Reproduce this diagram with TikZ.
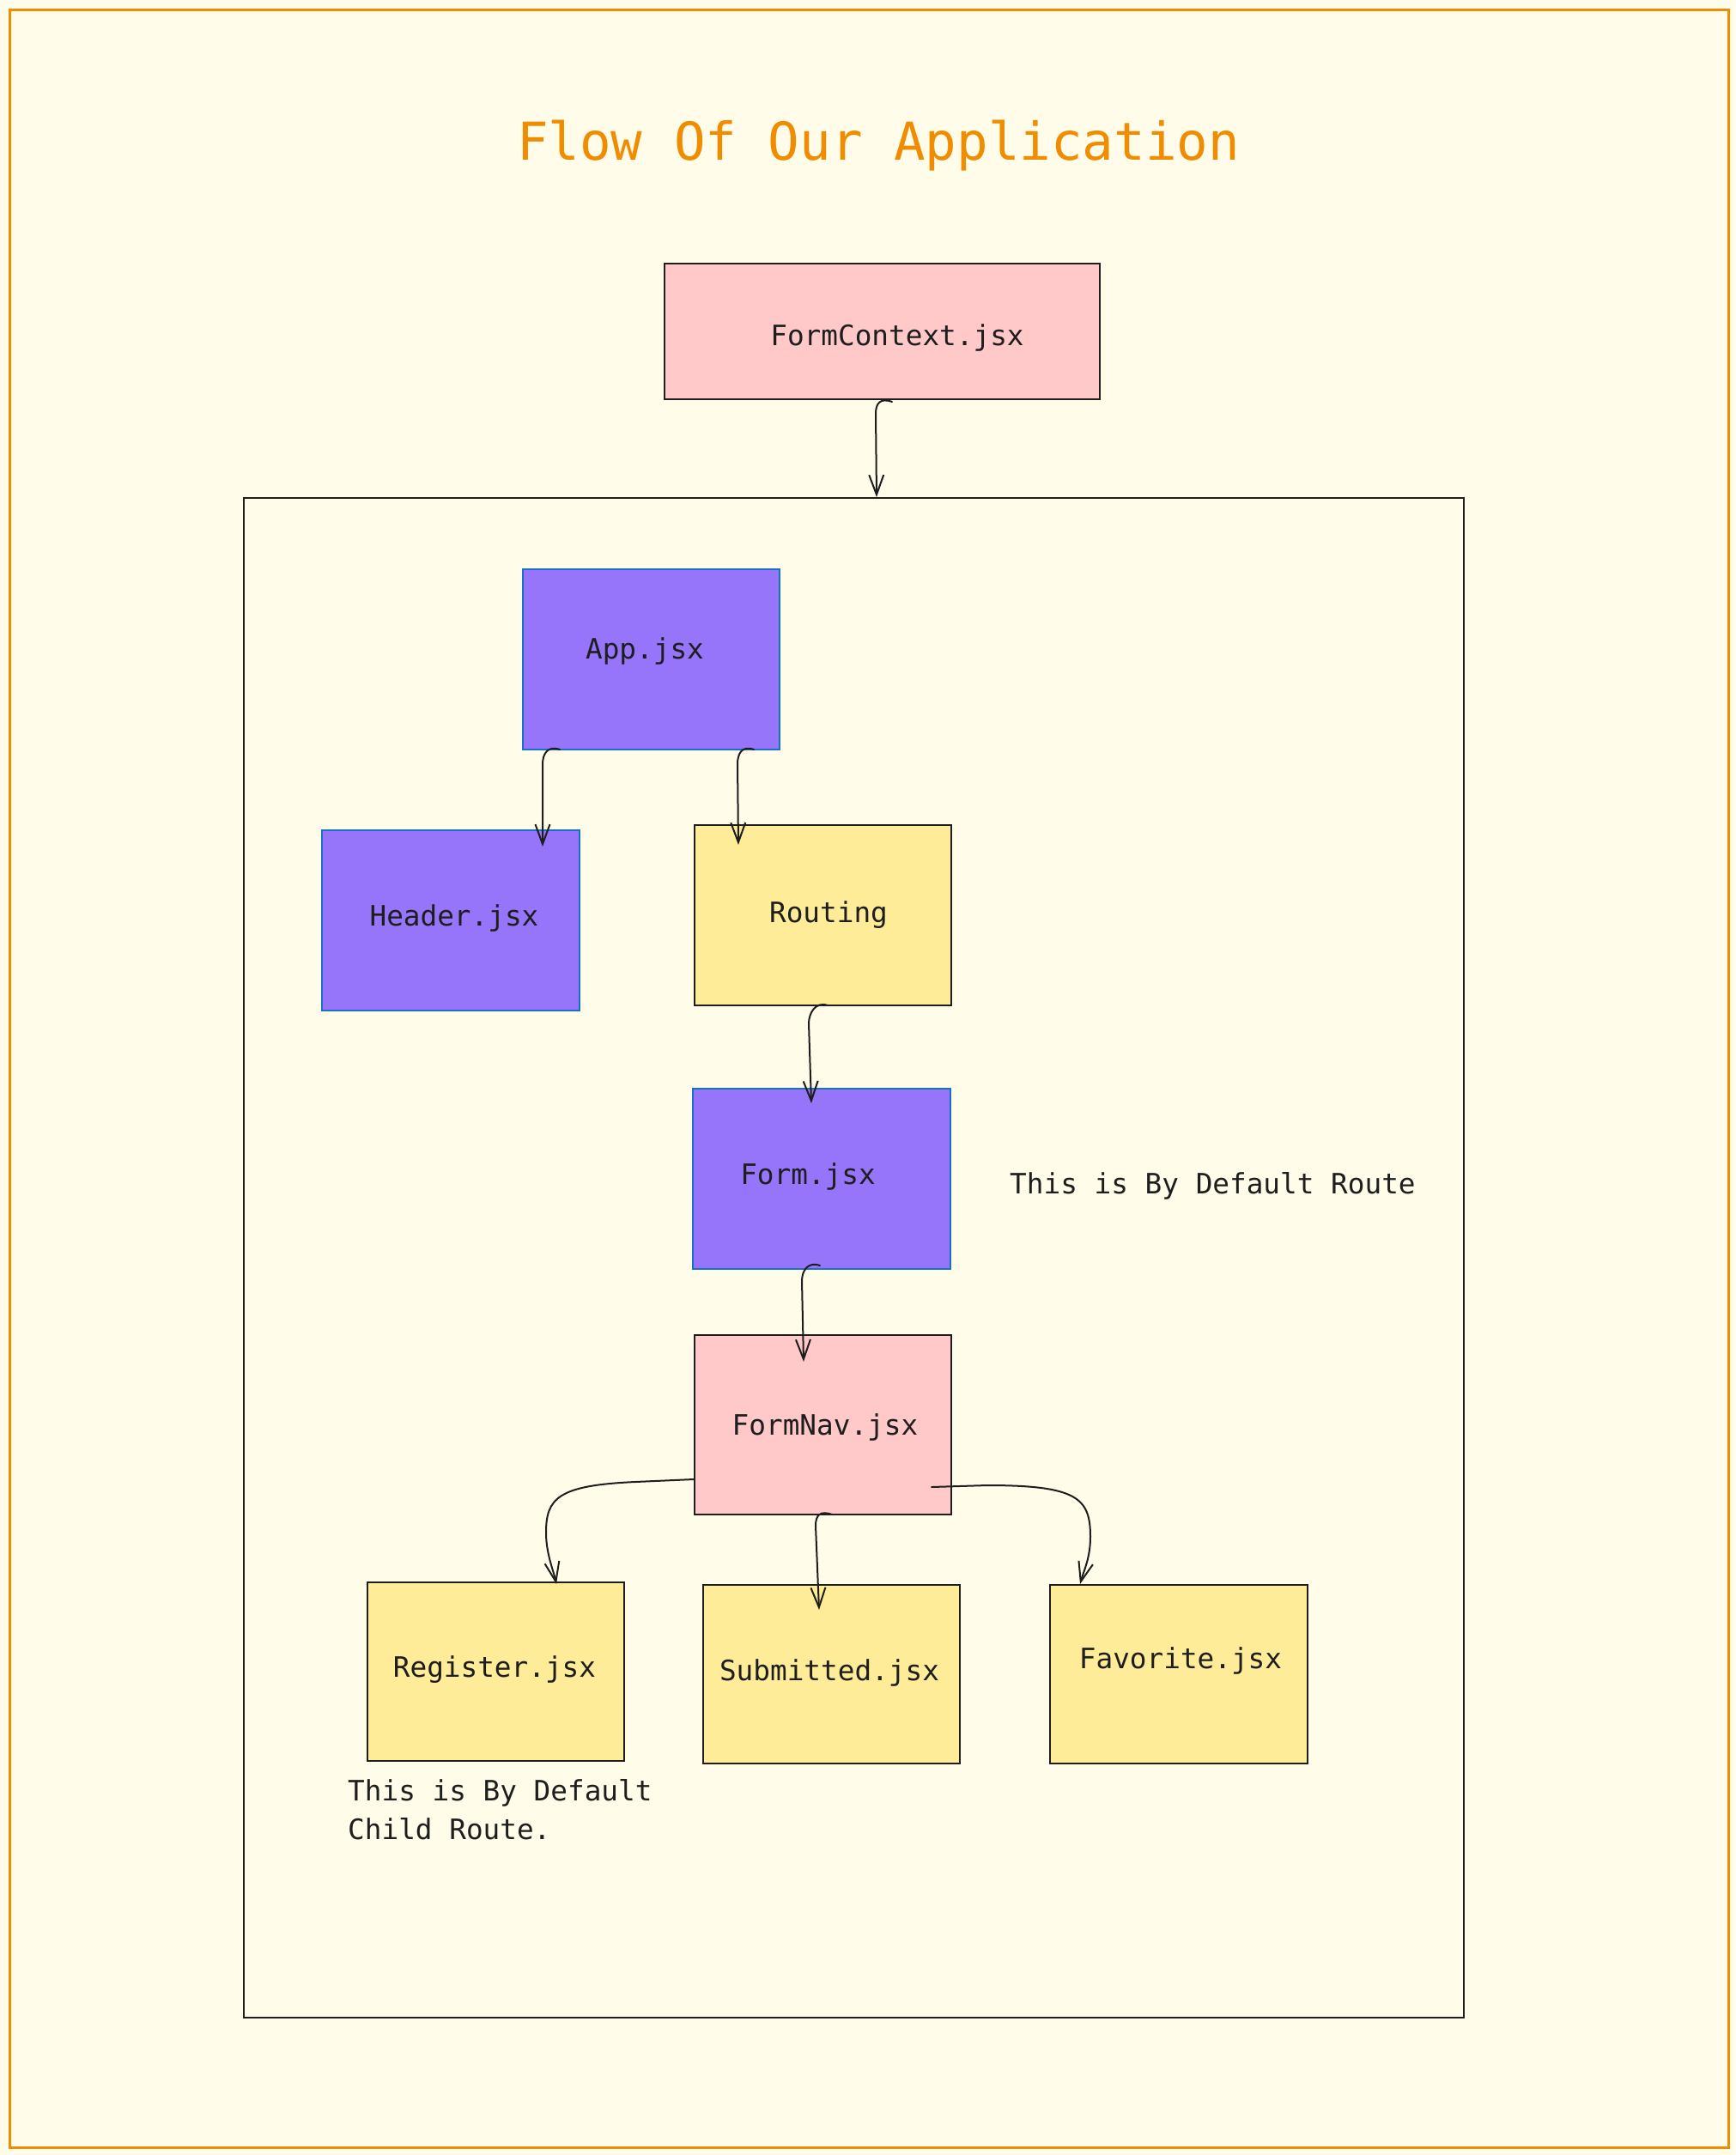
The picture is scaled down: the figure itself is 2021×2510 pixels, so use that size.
\documentclass[tikz,border=0pt]{standalone}
\usepackage{fontspec}
\setmonofont{DejaVu Sans Mono}
\usetikzlibrary{arrows.meta,calc}
\definecolor{bgc}{HTML}{FFFDE9}
\definecolor{orng}{HTML}{F08C00}
\definecolor{pinkf}{HTML}{FFC9C9}
\definecolor{violf}{HTML}{9775FA}
\definecolor{bluestroke}{HTML}{1971C2}
\definecolor{yelf}{HTML}{FFEC99}
\definecolor{dark}{HTML}{1E1E1E}
\begin{document}
\begin{tikzpicture}[x=1pt,y=-1pt,
  boxbase/.style={rectangle, inner sep=0pt, anchor=north west, line width=2pt},
  pinkbox/.style={boxbase, draw=dark, fill=pinkf},
  violbox/.style={boxbase, draw=bluestroke, fill=violf},
  yelbox/.style={boxbase, draw=dark, fill=yelf},
  lbl/.style={font=\ttfamily\fontsize{32.7}{45}\selectfont, text=dark, inner sep=0pt, anchor=base},
  note/.style={font=\ttfamily\fontsize{32.7}{45}\selectfont, text=dark, inner sep=0pt, anchor=base west, align=left},
  arr/.style={draw=dark, line width=2pt, line cap=round, -{Straight Barb[length=23pt,width=17pt,line width=2pt]}}
]
\useasboundingbox[fill=bgc] (0,0) rectangle (2021,2510);

% outer frame
\node[boxbase, draw=orng, line width=3pt, minimum width=2002pt, minimum height=2490pt] (frame) at (10,10) {};

% title
\node[font=\ttfamily\fontsize{60.8}{70}\selectfont, text=orng, inner sep=0pt, anchor=base] (title) at (1023,187) {Flow Of Our Application};

% boxes
\node[pinkbox, minimum width=507pt, minimum height=158pt] (fc) at (773,306) {};
\node[boxbase, draw=dark, minimum width=1421pt, minimum height=1770pt] (big) at (283,579) {};
\node[violbox, minimum width=299pt, minimum height=210pt] (app) at (608,662) {};
\node[violbox, minimum width=300pt, minimum height=210pt] (header) at (374,966) {};
\node[yelbox, minimum width=299pt, minimum height=210pt] (routing) at (808,960) {};
\node[violbox, minimum width=300pt, minimum height=210pt] (form) at (806,1267) {};
\node[pinkbox, minimum width=299pt, minimum height=209pt] (nav) at (808,1554) {};
\node[yelbox, minimum width=299pt, minimum height=208pt] (reg) at (427,1842) {};
\node[yelbox, minimum width=299pt, minimum height=208pt] (sub) at (818,1845) {};
\node[yelbox, minimum width=300pt, minimum height=208pt] (fav) at (1222,1845) {};

% labels
\node[lbl] (tfc) at (1045,402) {FormContext.jsx};
\node[lbl] (tapp) at (751,767) {App.jsx};
\node[lbl] (theader) at (529,1078) {Header.jsx};
\node[lbl] (trouting) at (965,1074) {Routing};
\node[lbl] (tform) at (941,1379) {Form.jsx};
\node[lbl] (tnav) at (961,1671) {FormNav.jsx};
\node[lbl] (treg) at (576,1953) {Register.jsx};
\node[lbl] (tsub) at (966,1957) {Submitted.jsx};
\node[lbl] (tfav) at (1375,1943) {Favorite.jsx};

% notes
\node[note] (n1) at (1176,1390) {This is By Default Route};
\node[note] (n2) at (405,2142) {This is By Default\\Child Route.};

% connectors
\draw[arr] ($(fc.south west)+(266,2)$) .. controls +(-14,-5) and +(0,-12) .. ($(fc.south west)+(247,16)$) -- ($(big.north west)+(738,0)$);
\draw[arr] ($(app.south west)+(44,-1)$) .. controls +(-14,-5) and +(0,-12) .. ($(app.south west)+(24,16)$) -- ($(header.north west)+(258,20)$);
\draw[arr] ($(app.south west)+(270,-1)$) .. controls +(-14,-5) and +(0,-12) .. ($(app.south west)+(251,16)$) -- ($(routing.north west)+(52,24)$);
\draw[arr] ($(routing.south west)+(156,-1)$) .. controls +(-14,-5) and +(0,-12) .. ($(routing.south west)+(134,20)$) -- ($(form.north west)+(139,18)$);
\draw[arr] ($(form.south west)+(149,-5)$) .. controls +(-14,-5) and +(0,-12) .. ($(form.south west)+(128,13)$) -- ($(nav.north west)+(128,32)$);
\draw[arr] ($(nav.south west)+(161,-1)$) .. controls +(-14,-5) and +(0,-12) .. ($(nav.south west)+(142,12)$) -- ($(sub.north west)+(136,30)$);

\coordinate (r0) at ($(nav.north west)+(0,169)$);
\coordinate (r1) at ($(reg.north west)+(313,-116)$);
\coordinate (r2) at ($(reg.north west)+(209,-57)$);
\coordinate (r3) at ($(reg.north west)+(221,3)$);
\draw[arr] (r0) -- (r1) .. controls +(-90,4) and +(0,-40) .. (r2) .. controls +(0,25) and +(-3,-15) .. (r3);

\coordinate (f0) at ($(nav.north west)+(277,178)$);
\coordinate (f1) at ($(fav.north west)+(-72,-115)$);
\coordinate (f2) at ($(fav.north west)+(48,-55)$);
\coordinate (f3) at ($(fav.north west)+(36,0)$);
\draw[arr] (f0) -- (f1) .. controls +(105,0) and +(0,-45) .. (f2) .. controls +(0,25) and +(4,-15) .. (f3);
\end{tikzpicture}
\end{document}
